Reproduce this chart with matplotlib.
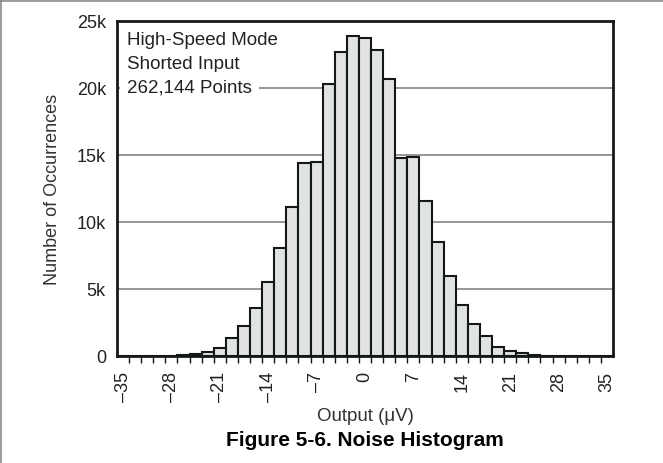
import numpy as np
import matplotlib
matplotlib.use("Agg")
import matplotlib.pyplot as plt
from matplotlib.ticker import FixedLocator
from matplotlib.lines import Line2D

plt.rcParams['font.family'] = ['Liberation Sans', 'DejaVu Sans']

# Data
bin_width = 1.75  # µV per histogram bin
bin_index = np.arange(-20, 21)
counts = [0, 0, 5, 10, 20, 50, 130, 300, 600, 1340, 2260, 3600, 5500, 8060,
          11140, 14400, 14500, 20300, 22700, 23900, 23700, 22800, 20700,
          14800, 14870, 11600, 8500, 5950, 3830, 2390, 1470, 700, 400, 200,
          100, 30, 10, 5, 0, 0, 0]
x_tick_values = [-35, -28, -21, -14, -7, 0, 7, 14, 21, 28, 35]
y_tick_values = [0, 5000, 10000, 15000, 20000, 25000]
y_tick_labels = ["0", "5k", "10k", "15k", "20k", "25k"]
annotation_lines = ["High-Speed Mode", "Shorted Input", "262,144 Points"]

centers = bin_index * bin_width

fig = plt.figure(figsize=(6.63, 4.64), dpi=100)
ax = fig.add_axes([117/663, (464-357)/464, (613-117)/663, (357-22)/464])

ax.bar(centers, counts, width=bin_width, color="#e1e2e4", edgecolor="#141816",
       linewidth=1.5, zorder=3)

ax.set_xlim(-20.5*bin_width, 20.5*bin_width)
ax.set_ylim(0, 25000)

# gridlines
for yv in y_tick_values[1:-1]:
    ax.axhline(yv, color="#7a7a7a", linewidth=1.1, zorder=1)

ax.set_yticks(y_tick_values)
ax.set_yticklabels(y_tick_labels)
ax.tick_params(axis='y', length=0, pad=8, labelsize=13, labelcolor="#222222")

ax.set_xticks(x_tick_values)
ax.set_xticklabels([str(v).replace('-', '\u2013') for v in x_tick_values], rotation=90)
ax.tick_params(axis='x', which='major', length=0, pad=11, labelsize=13, labelcolor="#222222")
edges = (np.arange(-20, 20) + 0.5) * bin_width
ax.xaxis.set_minor_locator(FixedLocator(edges))
ax.tick_params(axis='x', which='minor', length=5, width=1.0, direction='out', color="#141816")

for s in ax.spines.values():
    s.set_linewidth(2.0)
    s.set_color("#141816")
    s.set_zorder(5)

ax.set_xlabel("Output (\u03bcV)", fontsize=13.5, color="#333333", labelpad=4)
ax.set_ylabel("Number of Occurrences", fontsize=13, color="#333333", labelpad=11)

line_y = [0.946, 0.874, 0.803]
for i, (txt, yy) in enumerate(zip(annotation_lines, line_y)):
    kw = {}
    if i == len(annotation_lines) - 1:
        kw['bbox'] = dict(facecolor='white', edgecolor='none', pad=5)
    ax.text(0.02, yy, txt, transform=ax.transAxes, ha='left', va='center',
            fontsize=13.5, color="#222222", zorder=6, **kw)

fig.text(365/663, 1 - 441/464, "Figure 5-6. Noise Histogram", ha='center', va='center',
         fontsize=15, fontweight='bold', color="black")

# figure frame (top and left edges)
fig.add_artist(Line2D([0, 1], [1 - 2/464, 1 - 2/464], transform=fig.transFigure,
                      color="#8a8a8a", linewidth=1.2))
fig.add_artist(Line2D([1/663, 1/663], [0, 1], transform=fig.transFigure,
                      color="#8a8a8a", linewidth=1.2))

fig.savefig("out.png", dpi=100)
